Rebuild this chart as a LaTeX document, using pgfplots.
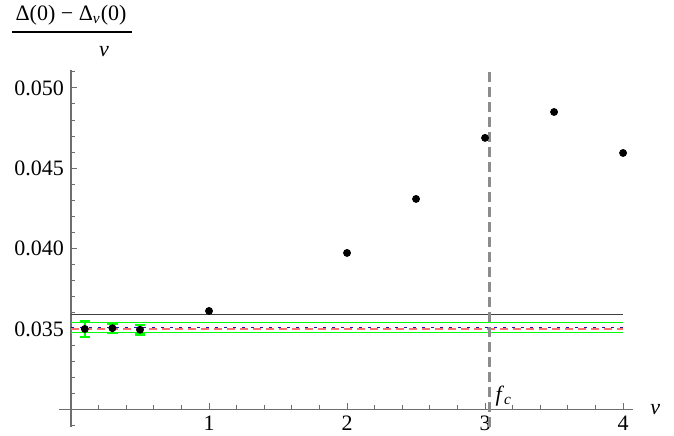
\documentclass[border=0pt]{standalone}
\usepackage{fontspec}
\setmainfont{Liberation Serif}
\usepackage{pgfplots}
\pgfplotsset{compat=1.18}
\definecolor{mgreen}{RGB}{0,255,0}
\definecolor{mred}{RGB}{255,110,110}
\definecolor{mblue}{RGB}{20,20,170}
\definecolor{axgray}{RGB}{110,110,110}
\begin{document}
\begin{tikzpicture}
\useasboundingbox (-29.5pt,-4pt) rectangle (307.5pt,213.5pt);
\begin{axis}[
  at={(0,0)}, anchor=south west,
  scale only axis, width=287pt, height=178.4pt,
  xmin=-0.087, xmax=4.072, ymin=0.0289, ymax=0.0511,
  axis x line=bottom, axis y line=left,
  axis x line shift=-8.84pt, axis y line shift=-6.0pt,
  axis line style={-, draw=axgray, line width=0.6pt},
  tick align=inside,
  major tick length=3pt, minor tick length=2pt,
  every tick/.style={axgray, line width=0.5pt},
  xtick={1,2,3,4},
  minor xtick={0.2,0.4,0.6,0.8,1.2,1.4,1.6,1.8,2.2,2.4,2.6,2.8,3.2,3.4,3.6,3.8},
  ytick={0.035,0.040,0.045,0.050},
  minor ytick={0.029,0.031,0.032,0.033,0.034,0.036,0.037,0.038,0.039,0.041,0.042,0.043,0.044,0.046,0.047,0.048,0.049,0.051},
  yticklabel style={/pgf/number format/.cd, fixed, fixed zerofill, precision=3},
  scaled y ticks=false,
  /pgf/number format/assume math mode=true,
  tick label style={font=\fontsize{11}{13}\selectfont, text=black},
  clip=false,
]
% horizontal reference lines
\addplot[color=black!75, line width=0.5pt, forget plot] coordinates {(0,0.0359) (4,0.0359)};
\addplot[color=mgreen, line width=0.6pt, forget plot] coordinates {(0,0.03542) (4,0.03542)};
\addplot[color=mgreen, line width=0.6pt, forget plot] coordinates {(0,0.03479) (4,0.03479)};
\addplot[color=mred, line width=1.1pt, dash pattern=on 4pt off 2.5pt, forget plot] coordinates {(0,0.03500) (4,0.03500)};
\addplot[color=mblue, line width=0.6pt, dash pattern=on 1.5pt off 3pt, forget plot] coordinates {(0,0.03511) (4,0.03511)};
% vertical f_c line
\addplot[color=black!45, line width=1.5pt, dash pattern=on 5pt off 2.5pt, forget plot] coordinates {(3.03,0.0289) (3.03,0.0511)};
% error-bar points
\addplot[only marks, mark=*, mark size=1.75pt, color=black,
  error bars/.cd, y dir=both, y explicit,
  error bar style={mgreen, line width=1.2pt},
  error mark options={mgreen, line width=1.2pt, mark size=2.6pt, rotate=90}]
  table[x=x, y=y, y error=e] {
  x    y        e
  0.1  0.03500  0.00050
  0.3  0.03505  0.00030
  0.5  0.03495  0.00030
};
% main points
\addplot[only marks, mark=*, mark size=1.75pt, color=black] coordinates {
  (1,0.03612) (2,0.03973) (2.5,0.04309) (3,0.04689) (3.5,0.04850) (4,0.04595)
};
\node[anchor=south west, inner sep=0pt, xshift=3pt, yshift=1.5pt, font=\fontsize{11}{13}\selectfont] at (axis cs:3.03,0.030) {\textit{f}\textsubscript{\textit{c}}};
\node[anchor=west, inner sep=0pt, xshift=8.5pt, font=\fontsize{11}{13}\selectfont] at (axis cs:4.072,0.030) {\textit{v}};
\end{axis}
\node[font=\fontsize{11}{13}\selectfont] at (6pt,206pt) {Δ(0) − Δ\textsubscript{\textit{v}}(0)};
\draw[line width=0.75pt] (-23.5pt,197.5pt) -- (36.5pt,197.5pt);
\node[font=\fontsize{11}{13}\selectfont] at (22.5pt,187.5pt) {\textit{v}};
\end{tikzpicture}
\end{document}
